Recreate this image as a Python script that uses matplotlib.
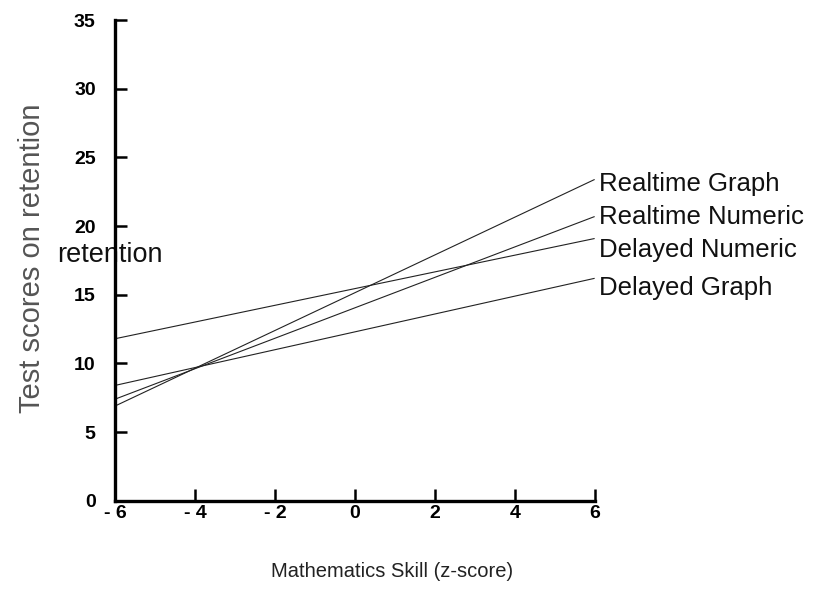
import matplotlib
matplotlib.use("Agg")
import matplotlib.pyplot as plt

# data: line end points at x = -6 and x = 6
x_ends = [-6, 6]
realtime_graph = [6.9, 23.4]
realtime_numeric = [7.4, 20.7]
delayed_numeric = [11.8, 19.1]
delayed_graph = [8.4, 16.2]

series_names = ["Realtime Graph", "Realtime Numeric", "Delayed Numeric", "Delayed Graph"]
series_values = [realtime_graph, realtime_numeric, delayed_numeric, delayed_graph]

x_ticks = [-6, -4, -2, 0, 2, 4, 6]
x_tick_labels = ["- 6", "- 4", "- 2", "0", "2", "4", "6"]
y_ticks = [0, 5, 10, 15, 20, 25, 30, 35]

plt.rcParams["font.family"] = ["Liberation Sans", "DejaVu Sans"]

fig = plt.figure(figsize=(8.34, 5.94), dpi=100)
ax = fig.add_axes([0.138, 0.157, 0.575, 0.809])
ax.patch.set_visible(False)

for vals in series_values:
    ax.plot(x_ends, vals, color="#222222", lw=0.8, solid_capstyle="butt")

# labels to the right of the line ends (pixel offsets tuned by eye)
label_offsets = [-3.5, -0.5, -8, -7]
for name, vals, dy in zip(series_names, series_values, label_offsets):
    ax.annotate(name, xy=(x_ends[-1], vals[-1]), xytext=(3, dy),
                textcoords="offset points", va="center", ha="left",
                fontsize=18.5, color="#111111", annotation_clip=False)

ax.set_xlim(-6, 6)
ax.set_ylim(0, 35)
ax.set_xticks(x_ticks)
ax.set_xticklabels(x_tick_labels)
ax.set_yticks(y_ticks)

for s in ("top", "right"):
    ax.spines[s].set_visible(False)
for s in ("left", "bottom"):
    ax.spines[s].set_linewidth(2.4)
    ax.spines[s].set_capstyle("projecting")

ax.tick_params(axis="both", direction="in", length=8.5, width=1.8)
ax.tick_params(axis="y", pad=14)
ax.tick_params(axis="x", pad=3)
for lab in ax.get_xticklabels() + ax.get_yticklabels():
    lab.set_fontweight("bold")
    lab.set_fontsize(14)

ax.set_xlabel("Mathematics Skill (z-score)", fontsize=14.5, color="#222222")
ax.xaxis.set_label_coords((392 - 115) / 480, -(572 - 501) / 481)
ax.xaxis.label.set_va("center")
ax.set_ylabel("Test scores on retention", fontsize=21, color="#555555")
ax.yaxis.set_label_coords(-(115 - 32) / 480, (501 - 258) / 481)
ax.yaxis.label.set_va("center")

# stray horizontal label fragment visible in the original (drawn under the axis)
fig.text(57 / 834, 1 - 255 / 594, "retention", fontsize=19.5, color="#111111",
         ha="left", va="center", zorder=-1)

fig.savefig("out.png", dpi=100)
